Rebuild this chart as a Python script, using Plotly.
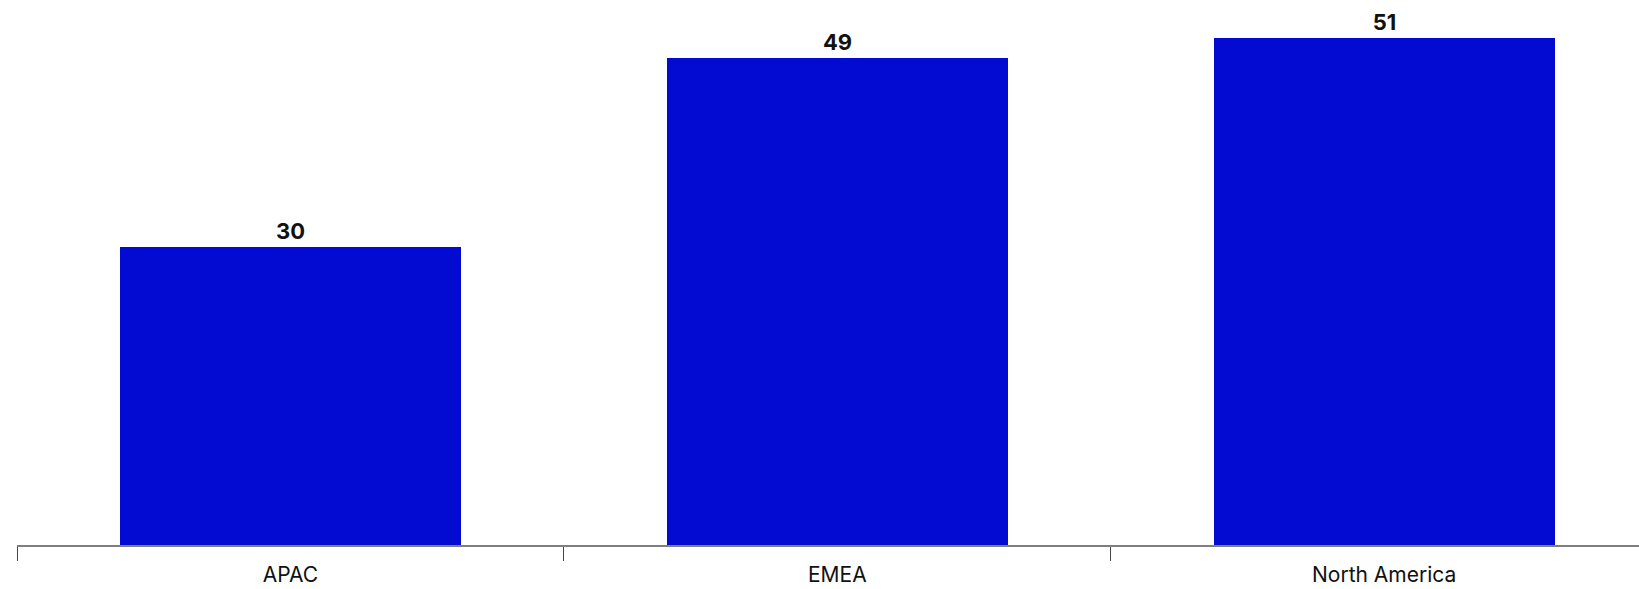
import plotly.graph_objects as go

categories = ["APAC", "EMEA", "North America"]
values = [30, 49, 51]

fig = go.Figure(
    go.Bar(
        x=categories,
        y=values,
        width=0.624,
        marker=dict(color="#030AD2", line=dict(width=0)),
        text=[str(v) for v in values],
        texttemplate="<b>%{text}</b>",
        textposition="outside",
        textfont=dict(family="Inter", size=22, color="#111111"),
        cliponaxis=False,
        hoverinfo="skip",
    )
)

fig.update_layout(
    width=1639,
    height=589,
    margin=dict(l=17, r=0, t=0, b=44),
    plot_bgcolor="white",
    paper_bgcolor="white",
    showlegend=False,
    bargap=0,
    xaxis=dict(
        type="category",
        range=[-0.5, 2.466],
        tickson="boundaries",
        ticks="outside",
        ticklen=14,
        tickcolor="#444444",
        tickwidth=1,
        showline=True,
        linecolor="#7f7f7f",
        linewidth=1.5,
        showgrid=False,
        automargin=False,
        tickfont=dict(family="Inter", size=21, color="#111111"),
        ticklabelstandoff=10,
    ),
    yaxis=dict(
        range=[0, 54.8],
        visible=False,
        showgrid=False,
        zeroline=False,
        automargin=False,
    ),
)

fig.write_html(
    "out.html",
    config={"displayModeBar": False},
    post_script="document.body.style.margin='0';document.body.style.overflow='hidden';",
)
